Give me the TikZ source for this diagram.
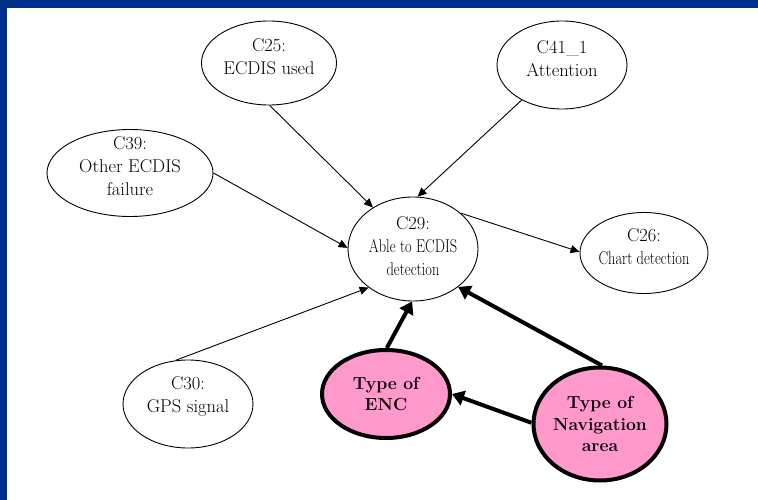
\documentclass[tikz,border=0pt]{standalone}
\usepackage{graphicx}
\usetikzlibrary{shapes.geometric,arrows.meta}
\definecolor{framebl}{HTML}{01308C}
\definecolor{pinkfill}{HTML}{FF99CC}
\newcommand{\narrow}[1]{\scalebox{0.78}[1]{#1}}
\begin{document}
\begin{tikzpicture}[x=1pt,y=-1pt,
  var/.style={ellipse, draw, line width=0.9pt, inner sep=0pt},
  vartext/.style={align=center, inner sep=0pt, font=\fontsize{18.5}{23}\selectfont},
  key/.style={ellipse, draw, line width=4pt, fill=pinkfill, inner sep=0pt, align=center,
    font=\fontsize{17.5}{21.5}\selectfont\bfseries},
  link/.style={line width=0.9pt, -{Triangle[length=9pt,width=8pt]}},
  strong/.style={line width=4pt, -{Triangle[length=12pt,width=15pt]}}]
\useasboundingbox (0,0) rectangle (758,500);
\fill[white] (0,0) rectangle (758,500);
% frame strips
\fill[framebl] (0,0) rectangle (758,8);
\fill[framebl] (0,0) rectangle (7,500);

% variables: outline first, then the text set a little above centre
\node[var, minimum width=135pt, minimum height=84pt] (c25) at (269,63) {};
\node[vartext] (c25t) at ([yshift=6pt]c25.center) {C25:\\ECDIS used};
\node[var, minimum width=130pt, minimum height=88pt] (c41) at (562,65) {};
\node[vartext] (c41t) at ([yshift=6pt]c41.center) {C41\_1\\Attention};
\node[var, minimum width=166pt, minimum height=87pt] (c39) at (130,173) {};
\node[vartext] (c39t) at ([yshift=7pt]c39.center) {C39:\\Other ECDIS\\failure};
\node[var, minimum width=130pt, minimum height=104pt] (c29) at (413,249) {};
\node[vartext] (c29t) at ([yshift=3pt]c29.center) {C29:\\\narrow{Able to ECDIS}\\\narrow{detection}};
\node[var, minimum width=128pt, minimum height=81pt] (c26) at (644,253) {};
\node[vartext] (c26t) at ([yshift=6pt]c26.center) {C26:\\\narrow{Chart detection}};
\node[var, minimum width=130pt, minimum height=88pt] (c30) at (188,404) {};
\node[vartext] (c30t) at ([yshift=8pt]c30.center) {C30:\\GPS signal};

% key factors
\node[key, minimum width=128pt, minimum height=88pt] (enc) at (386,394) {Type of\\ENC};
\node[key, minimum width=133pt, minimum height=113pt] (nav) at (600,424) {Type of\\Navigation\\area};

% influences
\draw[link] (c25.-89) -- (c29.134);
\draw[link] (c41.221.5) -- (c29.85);
\draw[link] (c39.0) -- (c29.179);
\draw[link] (c29.37) -- (c26.179);
\draw[link] (c30.106) -- (c29.221);

\draw[strong] (enc.89) -- (c29.-91);
\draw[strong] (nav.88) -- (c29.-40);
\draw[strong] (nav.179) -- (enc.0);
\end{tikzpicture}
\end{document}
